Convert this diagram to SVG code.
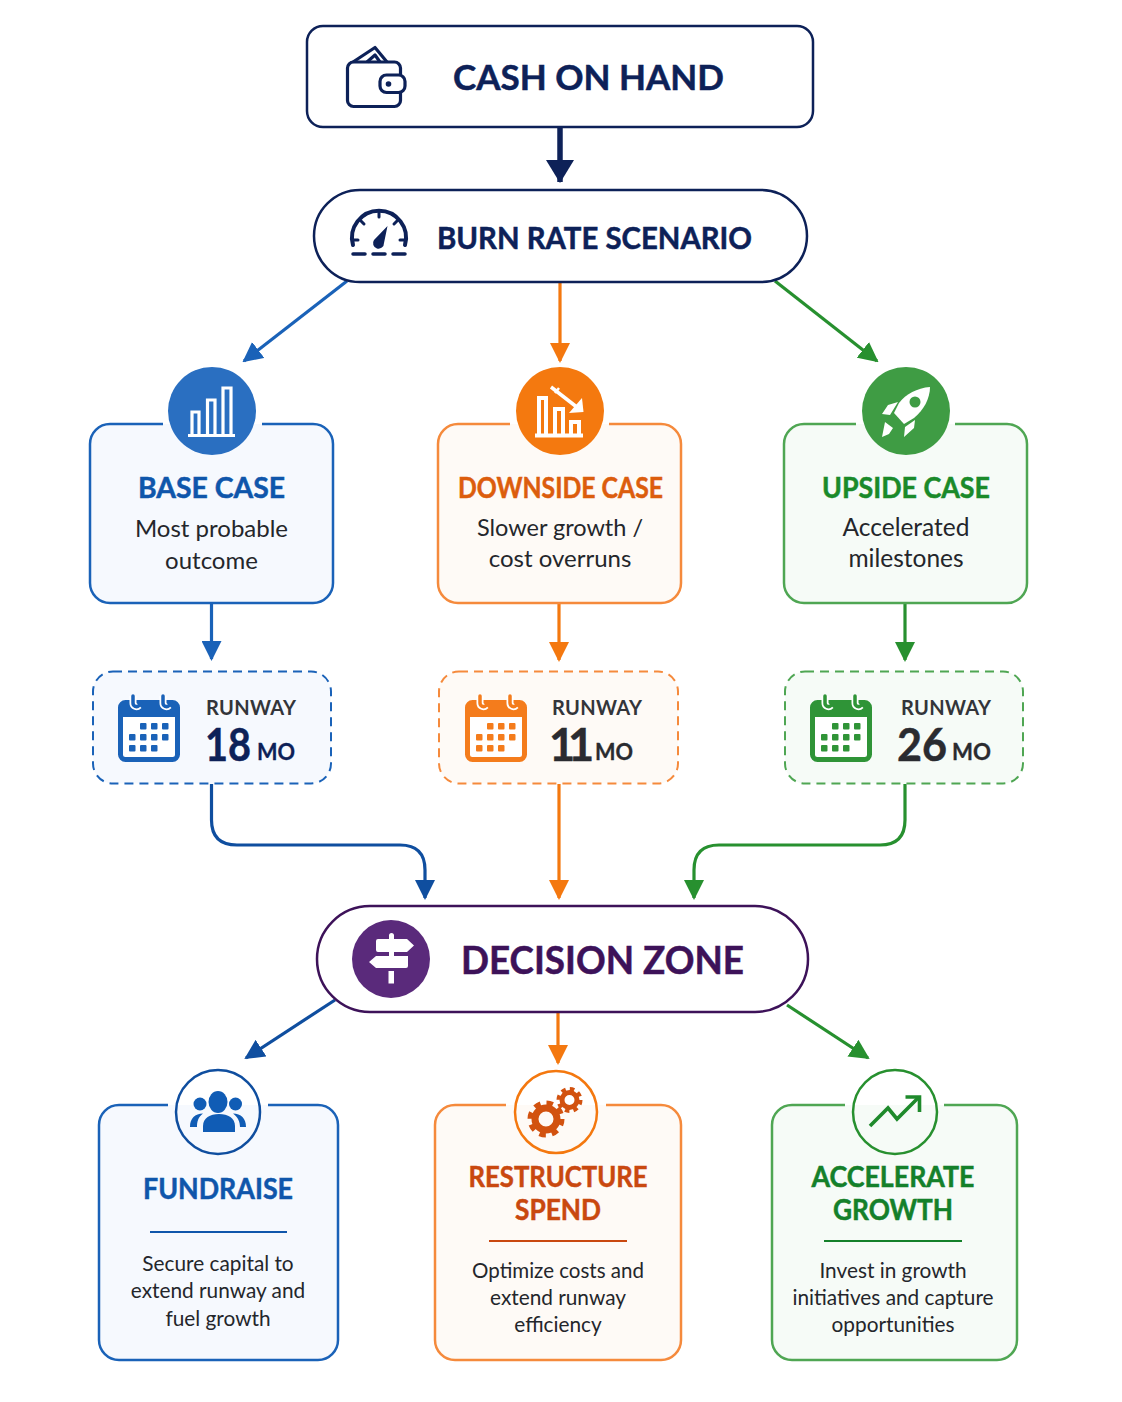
<svg xmlns="http://www.w3.org/2000/svg" width="1122" height="1402" viewBox="0 0 1122 1402">
<style>
text{font-family:"Lato","Noto Sans","Liberation Sans",sans-serif;text-anchor:middle}
.t{font-weight:700;font-size:28.5px;stroke-width:.5px}
.b{font-size:24px;fill:#24262b;font-weight:400}
.s{font-size:20.8px;fill:#24262b;font-weight:400}
.rw{font-size:20px;font-weight:700;fill:#33353a;text-anchor:start;letter-spacing:.3px}
.n{font-size:45px;font-weight:700;text-anchor:start;stroke-width:.5px}
.mo{font-size:22px;font-weight:700;text-anchor:start;stroke-width:.3px}
.c{fill:none;stroke-width:2.5}
.conn{fill:none;stroke-width:3.2}
.d{stroke-dasharray:9 6;stroke-width:2}
.w{fill:none;stroke:#fff}
.navy{stroke:#0d2158}
.blue{stroke:#1a62b8}.orange{stroke:#f58a3c}.green{stroke:#4fa653}
.ob{stroke:#f4780f}.gb{stroke:#27902f}.bb{stroke:#0f4e9f}
.fblue{fill:#f6f9fe}.forange{fill:#fefaf6}.fgreen{fill:#f6fbf7}
</style>
<defs>
<marker id="ah-navy" markerUnits="userSpaceOnUse" viewBox="0 0 23 28" markerWidth="23" markerHeight="28" refX="22" refY="14" orient="auto"><path d="M0 0 23 14 0 28z" fill="#0d2158"/></marker>
<marker id="ah-blue" markerUnits="userSpaceOnUse" viewBox="0 0 20 20" markerWidth="20" markerHeight="20" refX="18" refY="10" orient="auto"><path d="M0 0 20 10 0 20z" fill="#1a62b8"/></marker>
<marker id="ah-bb" markerUnits="userSpaceOnUse" viewBox="0 0 20 20" markerWidth="20" markerHeight="20" refX="18" refY="10" orient="auto"><path d="M0 0 20 10 0 20z" fill="#0f4e9f"/></marker>
<marker id="ah-orange" markerUnits="userSpaceOnUse" viewBox="0 0 20 20" markerWidth="20" markerHeight="20" refX="18" refY="10" orient="auto"><path d="M0 0 20 10 0 20z" fill="#f4780f"/></marker>
<marker id="ah-green" markerUnits="userSpaceOnUse" viewBox="0 0 20 20" markerWidth="20" markerHeight="20" refX="18" refY="10" orient="auto"><path d="M0 0 20 10 0 20z" fill="#27902f"/></marker>
<symbol id="cal" viewBox="0 0 62 70" width="62" height="70" overflow="visible">
<rect x="2.500" y="8.500" width="57" height="57" rx="5" fill="#fff" stroke="currentColor" stroke-width="5"/>
<path d="M2 14a6 6 0 0 1 6-6H54a6 6 0 0 1 6 6v9H2z" fill="currentColor"/>
<path d="M15 2V9a3.500 3.500 0 0 0 6 2.500M45 2V9a3.500 3.500 0 0 0 6 2.500" fill="none" stroke="#fff" stroke-width="7"/>
<path d="M15 2V9a3.500 3.500 0 0 0 6 2.500M45 2V9a3.500 3.500 0 0 0 6 2.500" fill="none" stroke="currentColor" stroke-width="3.500" stroke-linecap="round"/>
<g fill="currentColor"><rect x="22" y="29" width="6.500" height="6.500" rx="1"/><rect x="33" y="29" width="6.500" height="6.500" rx="1"/><rect x="44" y="29" width="6.500" height="6.500" rx="1"/><rect x="11" y="40" width="6.500" height="6.500" rx="1"/><rect x="22" y="40" width="6.500" height="6.500" rx="1"/><rect x="33" y="40" width="6.500" height="6.500" rx="1"/><rect x="44" y="40" width="6.500" height="6.500" rx="1"/><rect x="11" y="51" width="6.500" height="6.500" rx="1"/><rect x="22" y="51" width="6.500" height="6.500" rx="1"/><rect x="33" y="51" width="6.500" height="6.500" rx="1"/></g>
</symbol>
</defs>
<rect width="1122" height="1402" fill="#fff"/>

<g id="connectors">
<path d="M560 127V182" class="navy" fill="none" stroke-width="5.500" marker-end="url(#ah-navy)"/>
<path d="M347 281 244 361" class="conn blue" marker-end="url(#ah-blue)"/>
<path d="M560 283V361" class="conn ob" marker-end="url(#ah-orange)"/>
<path d="M775 281 877 361" class="conn gb" marker-end="url(#ah-green)"/>
<path d="M211.500 603V659" class="conn blue" marker-end="url(#ah-blue)"/>
<path d="M559 603V660" class="conn ob" marker-end="url(#ah-orange)"/>
<path d="M905 603V660" class="conn gb" marker-end="url(#ah-green)"/>
<path d="M211.500 784V820Q211.500 845 237 845H400Q425 845 425 870V898" class="conn bb" marker-end="url(#ah-bb)"/>
<path d="M559 784V898" class="conn ob" marker-end="url(#ah-orange)"/>
<path d="M905 784V820Q905 845 880 845H719Q694 845 694 870V898" class="conn gb" marker-end="url(#ah-green)"/>
<path d="M335 1000 246 1058" class="conn bb" marker-end="url(#ah-bb)"/>
<path d="M558 1012V1063" class="conn ob" marker-end="url(#ah-orange)"/>
<path d="M787 1005 868 1058" class="conn gb" marker-end="url(#ah-green)"/>
</g>

<g id="cash-on-hand">
<rect x="307" y="26" width="506" height="101" rx="16" fill="#fff" class="c navy"/>
<g fill="none" class="navy" stroke-width="3.200" stroke-linejoin="round">
<rect x="347.500" y="62" width="53" height="44.500" rx="6"/>
<path d="M353 62 375 47.500 387 62M367 62 375 55 380 62"/>
<rect x="380" y="75" width="25" height="17.500" rx="6.500" fill="#fff"/>
</g>
<circle cx="388.500" cy="84" r="2.800" fill="#0d2158"/>
<text x="588.500" y="90" class="t" style="font-size:35px" fill="#0d2158" stroke="#0d2158" textLength="271" lengthAdjust="spacingAndGlyphs">CASH ON HAND</text>
</g>

<g id="burn-rate-scenario">
<rect x="314" y="190" width="493" height="92" rx="46" fill="#f7f9fd" class="c navy"/>
<g fill="none" class="navy" stroke-width="4" stroke-linecap="round">
<path d="M353 245A27 27 0 1 1 405 245"/>
<path d="M353 240H358M400 240H405M361 221 364 224M397 221 394 224M379 213V217" stroke-width="3"/>
<path d="M353 254H365M373 254H385M393 254H405" stroke-width="3.500"/>
</g>
<path d="M387.500 226 384 243A5.500 5.500 0 1 1 374 240z" fill="#0d2158"/>
<text x="594.500" y="249" class="t" style="font-size:30px" fill="#0d2158" stroke="#0d2158" textLength="315" lengthAdjust="spacingAndGlyphs">BURN RATE SCENARIO</text>
</g>

<g id="base-case">
<path d="M163 424H110a20 20 0 0 0-20 20V583a20 20 0 0 0 20 20H313a20 20 0 0 0 20-20V444a20 20 0 0 0-20-20H262" class="c blue fblue"/>
<circle cx="212" cy="411" r="44" fill="#2a6fc1"/>
<g class="w" stroke-width="3.200"><path d="M192 435V412H199V435M207.500 435V400H215V435M223 435V388H231V435"/><path d="M188 435.500H235"/></g>
<text x="211.500" y="498" class="t" fill="#0f56ab" stroke="#0f56ab" textLength="147" lengthAdjust="spacingAndGlyphs">BASE CASE</text>
<text x="211.500" y="537" class="b">Most probable</text>
<text x="211.500" y="569" class="b">outcome</text>
</g>

<g id="downside-case">
<path d="M510 424H458a20 20 0 0 0-20 20V583a20 20 0 0 0 20 20H661a20 20 0 0 0 20-20V444a20 20 0 0 0-20-20H609" class="c orange forange"/>
<circle cx="560" cy="411" r="44" fill="#f4790f"/>
<g class="w" stroke-width="4"><path d="M539 435V398H546V435M555 435V409H563V435M571 435V422H579V435"/><path d="M535 435.500H583"/><path d="M551 387 578 408" stroke-width="3.500"/><path d="M555 393 559 388" stroke-width="2.500"/></g>
<path d="M569 413 583.500 412 582 398z" fill="#fff"/>
<text x="560.500" y="498" class="t" fill="#dc5d0d" stroke="#dc5d0d" textLength="205" lengthAdjust="spacingAndGlyphs">DOWNSIDE CASE</text>
<text x="560" y="536" class="b" style="font-size:23.500px">Slower growth /</text>
<text x="560" y="567" class="b">cost overruns</text>
</g>

<g id="upside-case">
<path d="M856 424H804a20 20 0 0 0-20 20V583a20 20 0 0 0 20 20H1007a20 20 0 0 0 20-20V444a20 20 0 0 0-20-20H955" class="c green fgreen"/>
<circle cx="906" cy="411" r="44" fill="#3f9c44"/>
<path d="M930 387C917 388 906 394 899 403L894 413 904 424 914 418C924 410 930 398 930 387Z" fill="#fff"/>
<path d="M882 414 888 405 898 402 890 415ZM904 437 905 427 915 420 914 428ZM882 437 885 422 893 428 889 434Z" fill="#fff"/>
<circle cx="915" cy="402" r="5.500" fill="#3f9c44"/>
<text x="906" y="498" class="t" fill="#1a8a2a" stroke="#1a8a2a" textLength="168" lengthAdjust="spacingAndGlyphs">UPSIDE CASE</text>
<text x="906" y="536" class="b" style="font-size:24.500px">Accelerated</text>
<text x="906" y="567" class="b" style="font-size:24.500px">milestones</text>
</g>

<g id="runway-base">
<rect x="93" y="671.500" width="238" height="112" rx="20" class="c d blue fblue"/>
<use href="#cal" x="118" y="694" color="#1a62b8"/>
<text x="206" y="715" class="rw">RUNWAY</text>
<text x="205" y="761" class="n" fill="#0d2158" stroke="#0d2158" textLength="46" lengthAdjust="spacingAndGlyphs">18</text>
<text x="257" y="760" class="mo" fill="#0d2158" stroke="#0d2158" textLength="38" lengthAdjust="spacingAndGlyphs">MO</text>
</g>

<g id="runway-downside">
<rect x="439" y="671.500" width="239" height="112" rx="20" class="c d orange forange"/>
<use href="#cal" x="465" y="694" color="#f47c1c"/>
<text x="552" y="715" class="rw">RUNWAY</text>
<text x="549" y="761" class="n" fill="#2a2b30" stroke="#2a2b30" style="letter-spacing:-7px">11</text>
<text x="595" y="760" class="mo" fill="#2a2b30" stroke="#2a2b30" textLength="38" lengthAdjust="spacingAndGlyphs">MO</text>
</g>

<g id="runway-upside">
<rect x="785" y="671.500" width="238" height="112" rx="20" class="c d green fgreen"/>
<use href="#cal" x="810" y="694" color="#2f9437"/>
<text x="901" y="715" class="rw">RUNWAY</text>
<text x="897" y="761" class="n" fill="#2a2b30" stroke="#2a2b30" textLength="50" lengthAdjust="spacingAndGlyphs">26</text>
<text x="952" y="760" class="mo" fill="#2a2b30" stroke="#2a2b30" textLength="39" lengthAdjust="spacingAndGlyphs">MO</text>
</g>

<g id="decision-zone">
<rect x="317" y="906" width="491" height="106" rx="53" fill="#faf7fc" class="c" stroke="#3d1259"/>
<circle cx="391" cy="959" r="39" fill="#5a2a7b"/>
<path d="M376 941a2 2 0 0 1 2-2H407L414 945.500 407 952H378a2 2 0 0 1-2-2ZM408 956V966a2 2 0 0 1-2 2H376L369 962 376 956ZM388.500 971H394V983.500H388.500ZM389 939V935.500a2.500 2.500 0 0 1 5 0V939ZM389 952H394V956H389Z" fill="#fff"/>
<text x="602.500" y="974" class="t" style="font-size:37.500px" fill="#3d1259" stroke="#3d1259" textLength="283" lengthAdjust="spacingAndGlyphs">DECISION ZONE</text>
</g>

<g id="fundraise">
<path d="M168 1105H119a20 20 0 0 0-20 20V1340a20 20 0 0 0 20 20H318a20 20 0 0 0 20-20V1125a20 20 0 0 0-20-20H268" class="c blue fblue"/>
<circle cx="218" cy="1112" r="42" fill="#fff" class="c bb"/>
<g fill="#105cb5">
<ellipse cx="218" cy="1102" rx="9.500" ry="11"/><circle cx="200" cy="1104" r="6.500"/><circle cx="235.500" cy="1104" r="6.500"/>
<path d="M203 1132V1126C203 1118 210 1114 219 1114S235 1118 235 1126V1132Z"/>
<path d="M190 1127C190 1118 195 1114 203 1113.500 198 1117 197 1122 197 1127ZM246 1127C246 1118 241 1114 233 1113.500 238 1117 240 1122 240 1127Z"/>
</g>
<text x="218" y="1199" class="t" fill="#0f56ab" stroke="#0f56ab" textLength="150" lengthAdjust="spacingAndGlyphs">FUNDRAISE</text>
<path d="M150 1232H287" stroke="#0f56ab" stroke-width="2"/>
<text x="218" y="1271" class="s">Secure capital to</text>
<text x="218" y="1298" class="s">extend runway and</text>
<text x="218" y="1326" class="s">fuel growth</text>
</g>

<g id="restructure-spend">
<path d="M506 1105H455a20 20 0 0 0-20 20V1340a20 20 0 0 0 20 20H661a20 20 0 0 0 20-20V1125a20 20 0 0 0-20-20H606" class="c orange forange"/>
<circle cx="556" cy="1112" r="41" fill="#fff" class="c ob"/>
<g fill="none" stroke="#d2520f">
<circle cx="546" cy="1119" r="11" stroke-width="7"/>
<circle cx="546" cy="1119" r="16" stroke-width="5" stroke-dasharray="6.500 6.070"/>
<circle cx="569.500" cy="1100" r="7.500" stroke-width="5"/>
<circle cx="569.500" cy="1100" r="11" stroke-width="4" stroke-dasharray="4.500 4.140"/>
</g>
<text x="558" y="1187" class="t" fill="#c9480f" stroke="#c9480f" textLength="179" lengthAdjust="spacingAndGlyphs">RESTRUCTURE</text>
<text x="558" y="1220" class="t" fill="#c9480f" stroke="#c9480f" textLength="86" lengthAdjust="spacingAndGlyphs">SPEND</text>
<path d="M489 1241H627" stroke="#c9480f" stroke-width="2"/>
<text x="558" y="1278" class="s" style="font-size:20.500px">Optimize costs and</text>
<text x="558" y="1305" class="s">extend runway</text>
<text x="558" y="1332" class="s">efficiency</text>
</g>

<g id="accelerate-growth">
<path d="M845 1105H792a20 20 0 0 0-20 20V1340a20 20 0 0 0 20 20H997a20 20 0 0 0 20-20V1125a20 20 0 0 0-20-20H944" class="c green fgreen"/>
<circle cx="895" cy="1112" r="42" fill="#fff" class="c gb"/>
<path d="M870 1126 888 1108 897 1119 918 1098" fill="none" stroke="#1f8a2c" stroke-width="3.600"/>
<path d="M905.500 1097H919.500V1112" fill="none" stroke="#1f8a2c" stroke-width="3.600"/>
<text x="893" y="1187" class="t" fill="#14802a" stroke="#14802a" textLength="163" lengthAdjust="spacingAndGlyphs">ACCELERATE</text>
<text x="893" y="1220" class="t" fill="#14802a" stroke="#14802a" textLength="120" lengthAdjust="spacingAndGlyphs">GROWTH</text>
<path d="M824 1241H962" stroke="#14802a" stroke-width="2"/>
<text x="893" y="1278" class="s">Invest in growth</text>
<text x="893" y="1305" class="s">initiatives and capture</text>
<text x="893" y="1332" class="s">opportunities</text>
</g>
</svg>
